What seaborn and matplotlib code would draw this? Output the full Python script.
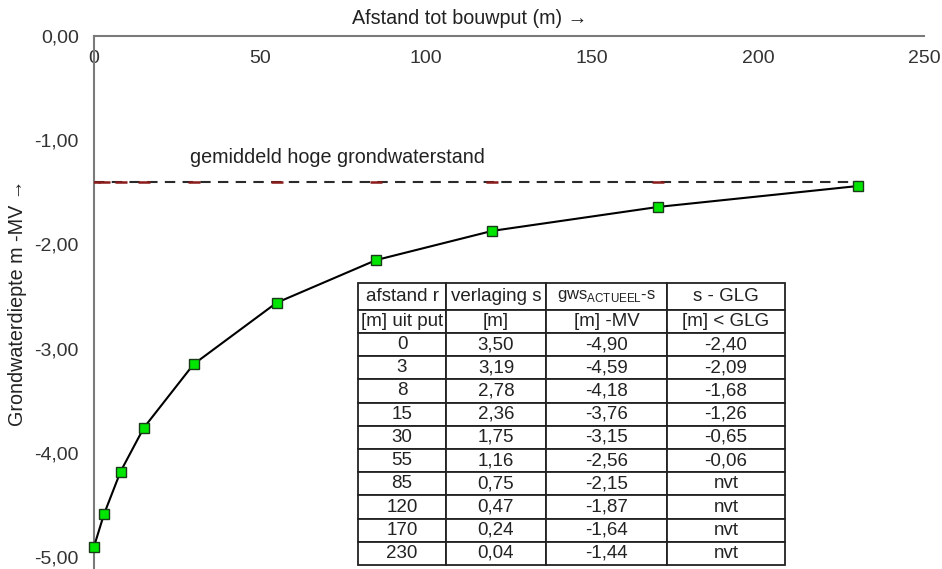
import matplotlib
matplotlib.use("Agg")
import matplotlib.pyplot as plt
import seaborn as sns
import pandas as pd
from matplotlib.ticker import FuncFormatter

# ---- data ----
afstand = [0, 3, 8, 15, 30, 55, 85, 120, 170, 230]
verlaging = [3.50, 3.19, 2.78, 2.36, 1.75, 1.16, 0.75, 0.47, 0.24, 0.04]
gws = [-4.90, -4.59, -4.18, -3.76, -3.15, -2.56, -2.15, -1.87, -1.64, -1.44]
s_glg = ['-2,40', '-2,09', '-1,68', '-1,26', '-0,65', '-0,06', 'nvt', 'nvt', 'nvt', 'nvt']
ghg_level = -1.40
ghg_label = "gemiddeld hoge grondwaterstand"
x_ticks = [0, 50, 100, 150, 200, 250]
y_ticks = [0, -1, -2, -3, -4, -5]
header1 = ["afstand r", "verlaging s", r"gws$_{\mathregular{ACTUEEL}}$-s", "s - GLG"]
header2 = ["[m] uit put", "[m]", "[m] -MV", "[m] < GLG"]
x_label = "Afstand tot bouwput (m) \u2192"
y_label = "Grondwaterdiepte m -MV \u2192"

sns.set_style("white")
plt.rcParams['font.family'] = ['Liberation Sans', 'DejaVu Sans']
plt.rcParams['mathtext.fontset'] = 'custom'
plt.rcParams['mathtext.rm'] = 'Liberation Sans'
plt.rcParams['axes.unicode_minus'] = False

fig = plt.figure(figsize=(9.42, 5.69), dpi=100)
W, H = 942, 569
ax_l, ax_r, ax_t = 94, 924, 36
ax = fig.add_axes([ax_l / W, 0, (ax_r - ax_l) / W, 1 - ax_t / H])

df = pd.DataFrame({"afstand": afstand, "gws": gws})
df_ghg = pd.DataFrame({"afstand": [afstand[0], afstand[-1]], "gws": [ghg_level, ghg_level]})

sns.lineplot(data=df_ghg, x="afstand", y="gws", ax=ax, color="#2a2a2a", lw=1.5,
             linestyle=(0, (5, 3.5)), zorder=2)
ax.scatter(afstand[:-1], [ghg_level] * (len(afstand) - 1), marker="_", s=70,
           color="#8b1a1a", linewidths=1.8, zorder=3)
sns.lineplot(data=df, x="afstand", y="gws", ax=ax, color="black", lw=1.5,
             marker="s", markersize=7.5, markerfacecolor="#00e600",
             markeredgecolor="#1a3a1a", markeredgewidth=1.0, zorder=4,
             clip_on=False)

ax.text(28.9, -1.17, ghg_label, fontsize=14.2, va="center", ha="left", color="#222222")

ax.set_xlim(0, 250)
ax.set_ylim(-5.115, 0)
ax.set_xticks(x_ticks)
ax.set_yticks(y_ticks)
ax.yaxis.set_major_formatter(FuncFormatter(lambda v, p: f"{v:.2f}".replace('.', ',').replace('-0,00', '0,00')))

for s in ["top", "right"]:
    ax.spines[s].set_visible(False)
ax.spines["bottom"].set_position(("data", 0))
for s in ["left", "bottom"]:
    ax.spines[s].set_color("#7a7a7a")
    ax.spines[s].set_linewidth(1.5)
ax.tick_params(axis="both", direction="inout", length=9, width=1.2, color="#7a7a7a",
               labelsize=14, labelcolor="#333333", pad=6.5)
ax.tick_params(axis="x", pad=5.5)

ax.set_xlabel(x_label, fontsize=14.2, color="#222222")
ax.xaxis.set_label_position("top")
ax.xaxis.set_label_coords((470 - ax_l) / (ax_r - ax_l), 1 + (ax_t - 18) / (H - ax_t))
ax.xaxis.label.set_va("center")
ax.set_ylabel(y_label, fontsize=14.2, color="#222222")
ax.yaxis.set_label_coords((18 - ax_l) / (ax_r - ax_l), (H - 303) / (H - ax_t))
ax.yaxis.label.set_va("center")

# ---- table ----
def c(v):
    return f"{v:.2f}".replace('.', ',')

rows = [header1, header2]
for a, v, g, sg in zip(afstand, verlaging, gws, s_glg):
    rows.append([str(a), c(v), c(g), sg])

col_px = [88, 100, 121, 118]
row_px = [27, 23] + [23.2] * len(afstand)
tbl_left, tbl_top = 358, 283
tw = sum(col_px)
th = sum(row_px)
axw, axh = ax_r - ax_l, H - ax_t
bbox = [(tbl_left - ax_l) / axw, (H - tbl_top - th) / axh, tw / axw, th / axh]
tbl = ax.table(cellText=rows, cellLoc="center", bbox=bbox, zorder=6)
tbl.auto_set_font_size(False)
for (r, ci), cell in tbl.get_celld().items():
    cell.set_width(col_px[ci])
    cell.set_height(row_px[r])
    cell.set_edgecolor("#222222")
    cell.set_linewidth(1.3)
    cell.set_facecolor("white")
    cell.get_text().set_fontsize(13.5 if not (r == 0 and ci == 2) else 12)
    cell.get_text().set_color("#222222")

fig.savefig("out.png", dpi=100)
